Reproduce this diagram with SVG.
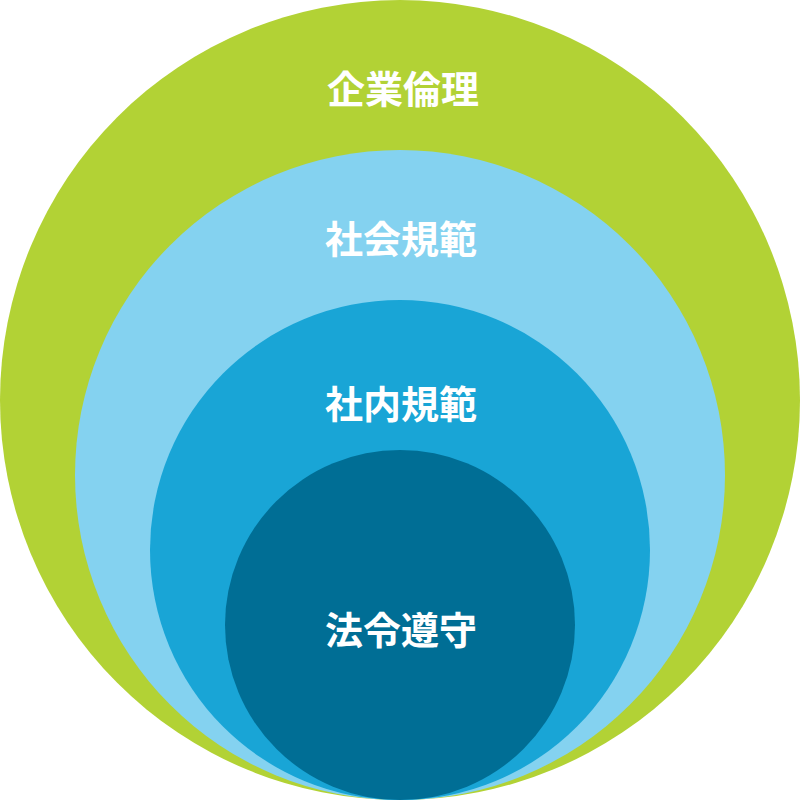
<svg xmlns="http://www.w3.org/2000/svg" width="800" height="800" viewBox="0 0 800 800">
<style>
.lbl{font-family:"Noto Sans CJK JP","Noto Sans CJK SC",sans-serif;font-weight:bold;font-size:38px;fill:#ffffff;text-anchor:middle;dominant-baseline:central}
</style>
<g id="n1"><circle cx="400" cy="400" r="400" fill="#B2D235"/><text class="lbl" x="403" y="86">企業倫理</text></g>
<g id="n2"><circle cx="400" cy="475" r="325" fill="#84D2F0"/><text class="lbl" x="401" y="236">社会規範</text></g>
<g id="n3"><circle cx="400" cy="550" r="250" fill="#19A5D6"/><text class="lbl" x="401" y="401">社内規範</text></g>
<g id="n4"><circle cx="400" cy="625" r="175" fill="#006E95"/><text class="lbl" x="401" y="627">法令遵守</text></g>
<g id="connectors"></g>
</svg>
